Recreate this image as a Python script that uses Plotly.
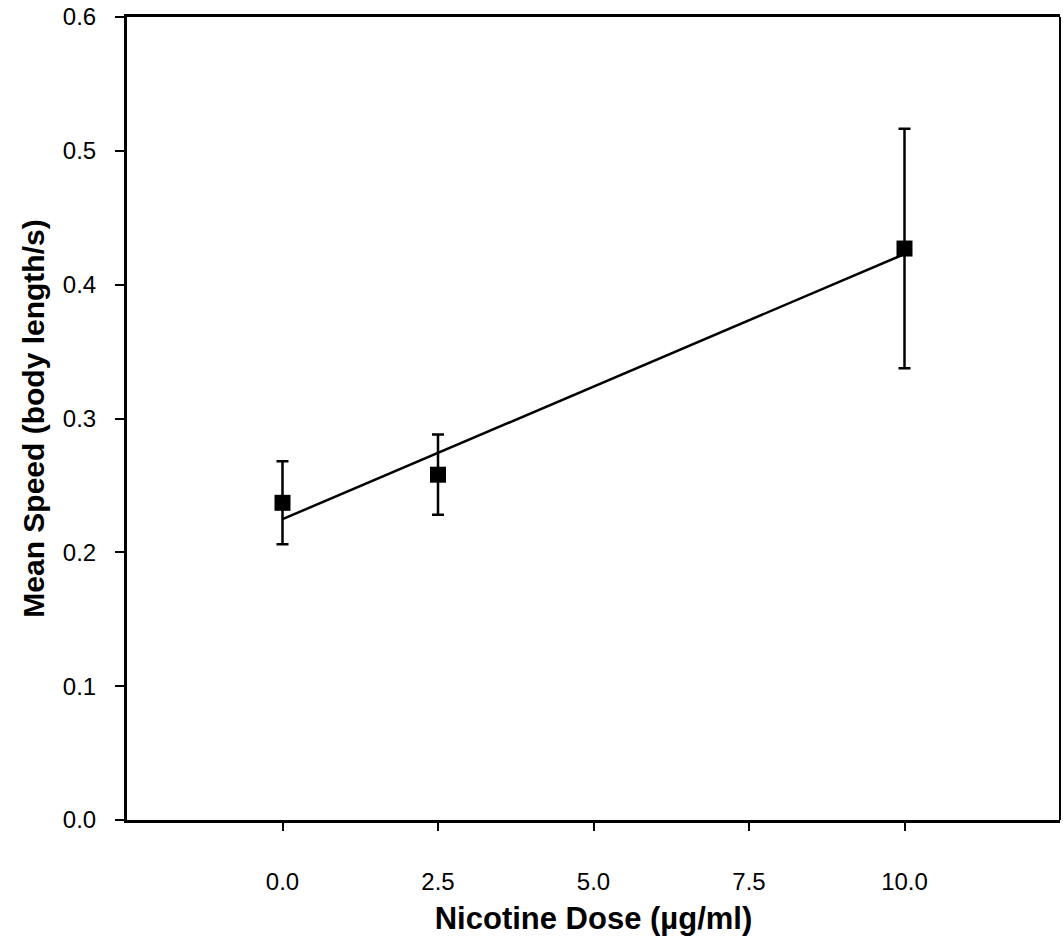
import numpy as np
import plotly.graph_objects as go

dose = [0.0, 2.5, 10.0]
mean_speed = [0.237, 0.258, 0.427]
sem = [0.031, 0.030, 0.0895]

x_ticks = [0.0, 2.5, 5.0, 7.5, 10.0]
x_tick_labels = ["0.0", "2.5", "5.0", "7.5", "10.0"]
y_ticks = [0.0, 0.1, 0.2, 0.3, 0.4, 0.5, 0.6]
y_tick_labels = ["0.0", "0.1", "0.2", "0.3", "0.4", "0.5", "0.6"]

slope, intercept = np.polyfit(dose, mean_speed, 1)
fit_x = [min(dose), max(dose)]
fit_y = [intercept + slope * v for v in fit_x]

fig = go.Figure()
fig.add_trace(go.Scatter(
    x=fit_x, y=fit_y, mode="lines",
    line=dict(color="black", width=2.5), showlegend=False, hoverinfo="skip"))
fig.add_trace(go.Scatter(
    x=dose, y=mean_speed, mode="markers",
    marker=dict(symbol="square", size=16, color="black"),
    error_y=dict(type="data", array=sem, visible=True, color="black", thickness=2.5, width=6),
    showlegend=False))

font_family = "Liberation Sans, Arial, sans-serif"
fig.update_layout(
    width=1063, height=936,
    margin=dict(l=127, r=3, t=14, b=116),
    plot_bgcolor="white", paper_bgcolor="white",
    font=dict(family=font_family, color="black"),
    xaxis=dict(
        range=[-2.5, 12.5], tickmode="array", tickvals=x_ticks, ticktext=x_tick_labels,
        showgrid=False, zeroline=False, showline=True, linecolor="black", linewidth=3,
        mirror=True, ticks="outside", ticklen=8, tickwidth=2, tickcolor="black",
        tickfont=dict(size=24, family=font_family), ticklabelstandoff=30,
        title=dict(text="<b>Nicotine Dose (µg/ml)</b>", font=dict(size=31, family=font_family), standoff=14),
    ),
    yaxis=dict(
        range=[0, 0.6], tickmode="array", tickvals=y_ticks, ticktext=y_tick_labels,
        showgrid=False, zeroline=False, showline=True, linecolor="black", linewidth=3,
        mirror=False, ticks="outside", ticklen=9, tickwidth=2, tickcolor="black",
        tickfont=dict(size=24, family=font_family), ticklabelstandoff=14,
        title=dict(text="<b>Mean Speed (body length/s)</b>", font=dict(size=30, family=font_family), standoff=10),
    ),
    shapes=[dict(type="line", xref="paper", yref="paper", x0=1, x1=1, y0=0, y1=1,
                 line=dict(color="black", width=2))],
)
fig.write_html("out.html", config={"displayModeBar": False},
               post_script="document.body.style.margin='0px';")
